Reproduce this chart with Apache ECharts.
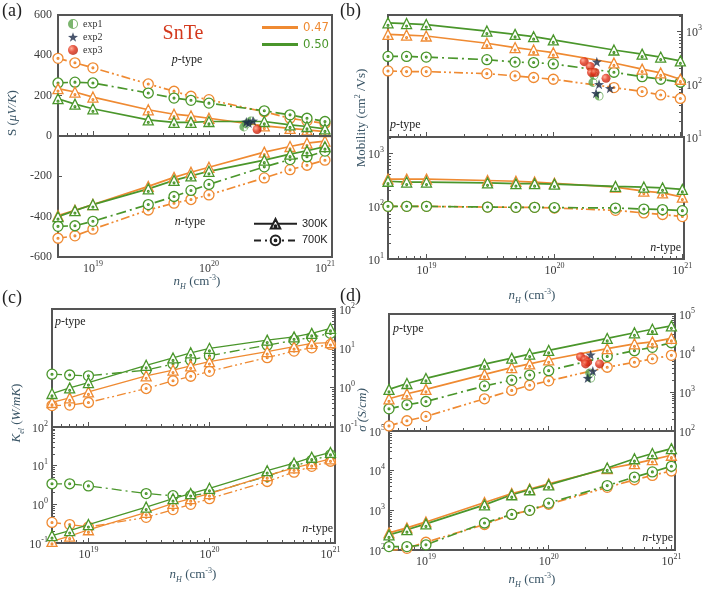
<!DOCTYPE html>
<html><head><meta charset="utf-8">
<script src="https://cdn.jsdelivr.net/npm/echarts@6/dist/echarts.min.js"></script>
<style>html,body{margin:0;padding:0;background:#fff}#c{width:705px;height:591px}</style>
</head><body><div id="c"></div>
<script>
// ---------------- DATA ----------------
const nH = [5e18, 7e18, 1e19, 3e19, 5e19, 7e19, 1e20, 3e20, 5e20, 7e20, 1e21];
const compositions = ['0.47', '0.50'];
const temperatures = ['300K', '700K'];
const linearTicksA = [-600, -400, -200, 0, 200, 400, 600];

// (a) Seebeck coefficient, uV/K
const S_p_047_300 = [235, 218, 193, 130, 108, 100, 88, 50, 38, 30, 22];
const S_p_050_300 = [185, 158, 135, 80, 68, 68, 72, 72, 55, 47, 35];
const S_p_047_700 = [385, 363, 338, 258, 222, 197, 180, 120, 88, 75, 62];
const S_p_050_700 = [263, 267, 263, 213, 188, 177, 163, 125, 105, 88, 72];
const S_n_047_300 = [-395, -368, -340, -250, -205, -180, -155, -80, -52, -35, -25];
const S_n_050_300 = [-400, -370, -340, -262, -220, -198, -175, -120, -90, -73, -53];
const S_n_047_700 = [-507, -495, -462, -367, -333, -315, -292, -208, -167, -145, -120];
const S_n_050_700 = [-448, -445, -423, -340, -300, -270, -240, -153, -117, -103, -75];

// (b) Mobility, cm2/Vs
const M_p_047_300 = [890, 865, 830, 605, 500, 450, 400, 255, 195, 165, 125];
const M_p_050_300 = [1480, 1430, 1370, 1030, 890, 805, 700, 450, 375, 330, 280];
const M_p_047_700 = [180, 175, 175, 160, 145, 135, 125, 87, 73, 63, 54];
const M_p_050_700 = [340, 340, 330, 295, 265, 260, 245, 170, 140, 125, 110];
const M_n_047_300 = [330, 330, 330, 310, 300, 290, 275, 233, 195, 180, 150];
const M_n_050_300 = [300, 290, 290, 280, 270, 270, 265, 240, 233, 225, 210];
const M_n_047_700 = [100, 100, 100, 97, 96, 96, 93, 84, 75, 70, 64];
const M_n_050_700 = [100, 100, 100, 97, 96, 96, 95, 93, 89, 87, 83];

// (c) Electronic thermal conductivity, W/mK
const K_p_047_300 = [0.42, 0.55, 0.78, 2.0, 2.8, 3.6, 4.6, 8.2, 11, 13.3, 14];
const K_p_050_300 = [0.71, 0.99, 1.35, 3.7, 5.7, 7.7, 10, 16.2, 19.6, 24, 32];
const K_p_047_700 = [0.35, 0.36, 0.42, 0.95, 1.5, 1.95, 2.6, 5.8, 8.5, 10.3, 12.6];
const K_p_050_700 = [2.2, 2.1, 2.0, 2.8, 4.0, 5.0, 6.5, 12, 16, 19, 24];
const K_n_047_300 = [0.11, 0.15, 0.22, 0.62, 1.06, 1.4, 1.9, 5.5, 8.8, 11.3, 15];
const K_n_050_300 = [0.155, 0.21, 0.30, 0.85, 1.4, 1.9, 2.6, 7.4, 11.7, 16.5, 22];
const K_n_047_700 = [0.34, 0.30, 0.26, 0.46, 0.73, 1.0, 1.4, 3.9, 6.8, 9.6, 13];
const K_n_050_700 = [3.4, 3.4, 3.0, 1.9, 1.67, 1.67, 1.96, 5.3, 9.6, 13.7, 19];

// (d) Electrical conductivity, S/cm
const D_p_047_300 = [670, 900, 1170, 2830, 4230, 5270, 6700, 12900, 17200, 19300, 23600];
const D_p_050_300 = [1170, 1650, 2230, 5170, 7400, 9400, 11700, 23600, 33000, 40700, 49700];
const D_p_047_700 = [135, 183, 236, 670, 1100, 1490, 1930, 4310, 5800, 7100, 8700];
const D_p_050_700 = [370, 470, 570, 1430, 2020, 2720, 3530, 8180, 11500, 14000, 18300];
const D_n_047_300 = [270, 360, 510, 1570, 2650, 3440, 4650, 11200, 15000, 19000, 24500];
const D_n_050_300 = [240, 325, 455, 1370, 2470, 3300, 4380, 11700, 20000, 27000, 36000];
const D_n_047_700 = [95, 110, 157, 440, 790, 1000, 1420, 3800, 5900, 7600, 9800];
const D_n_050_700 = [122, 122, 135, 480, 790, 1000, 1520, 4200, 6900, 9300, 12900];

// experiments [nH, value]
const expA1 = [[2.0e20, 45], [2.1e20, 60], [2.3e20, 75]];
const expA2 = [[2.1e20, 70], [2.2e20, 65], [2.4e20, 75]];
const expA3 = [[2.6e20, 32]];
const expB1 = [[2.09e20, 148], [2.05e20, 109], [2.29e20, 60]];
const expB2 = [[2.2e20, 270], [2.29e20, 100], [2.79e20, 84], [2.17e20, 68]];
const expB3 = [[1.75e20, 270], [1.95e20, 218], [2.0e20, 168], [2.13e20, 168], [2.6e20, 130]];
const expD1 = [[2.2e20, 2270], [2.16e20, 3060]];
const expD2 = [[2.2e20, 9000], [2.29e20, 3450], [2.08e20, 2270]];
const expD3 = [[1.82e20, 8000], [1.97e20, 6700], [2.08e20, 5900], [2.0e20, 5260], [2.6e20, 5260]];

const minorFactors = [2, 3, 4, 5, 6, 7, 8, 9];

// ---------------- STYLE ----------------
const ORANGE = '#EF8A32', GREEN = '#4A962B';
const FRAME = '#555555', TICK = '#555', LABEL = '#3a3a3a', TITLE = '#3A5566';
const SERIF = 'Liberation Serif, DejaVu Serif, serif';
const TRI = 'path://M0,-9 L9,7 L-9,7 Z M1.6,3 A1.6,1.6 0 1,1 -1.6,3 A1.6,1.6 0 1,1 1.6,3 Z';
const CIRC = 'path://M10,0 A10,10 0 1,1 -10,0 A10,10 0 1,1 10,0 Z M1.8,0 A1.8,1.8 0 1,1 -1.8,0 A1.8,1.8 0 1,1 1.8,0 Z';
const HALF = 'path://M0,-10 A10,10 0 0,0 0,10 Z M0,-10 A10,10 0 0,1 0,10 L0,8 A8,8 0 0,0 0,-8 Z';
const STAR = 'path://M0,-10 L2.35,-3.24 L9.51,-3.09 L3.8,1.24 L5.88,8.09 L0,4 L-5.88,8.09 L-3.8,1.24 L-9.51,-3.09 L-2.35,-3.24 Z';
const REDBALL = {type: 'radial', x: 0.35, y: 0.35, r: 0.75, colorStops: [{offset: 0, color: '#ff9c80'}, {offset: 0.45, color: '#e2321a'}, {offset: 1, color: '#b01a05'}]};

const grids = [
  {left: 58, top: 15, width: 274, height: 242},   // a
  {left: 388, top: 15, width: 296, height: 122},  // b p
  {left: 388, top: 137, width: 296, height: 122}, // b n
  {left: 52, top: 309, width: 283, height: 118},  // c p
  {left: 52, top: 427, width: 283, height: 116},  // c n
  {left: 389, top: 314, width: 286, height: 117}, // d p
  {left: 389, top: 431, width: 286, height: 119}  // d n
].map(g => Object.assign({show: true, borderColor: FRAME, borderWidth: 2, backgroundColor: 'transparent'}, g));

const POW_RICH = {
  b: {fontFamily: SERIF, fontSize: 12, color: LABEL, lineHeight: 15, verticalAlign: 'bottom'},
  s: {fontFamily: SERIF, fontSize: 8, color: LABEL, lineHeight: 15, verticalAlign: 'top'}
};
const powFmt = v => '{b|10}{s|' + Math.round(Math.log10(v)) + '}';

function logAxisPair(gi, min, max, lo, hi, showLabel, position, margin) {
  const major = [], minor = [];
  for (let e = lo; e <= hi; e++) {
    major.push(Number('1e' + e));
    minorFactors.forEach(m => minor.push(Number(m + 'e' + e)));
  }
  const base = {type: 'log', logBase: 10, min, max, gridIndex: gi, position,
    axisLine: {show: false}, splitLine: {show: false}, minorTick: {show: false}};
  return [
    Object.assign({}, base, {
      axisTick: {show: true, inside: true, length: 5, lineStyle: {color: TICK, width: 1}, customValues: major},
      axisLabel: {show: showLabel, customValues: major, formatter: powFmt, rich: POW_RICH, margin: margin}
    }),
    Object.assign({}, base, {
      axisTick: {show: true, inside: true, length: 3, lineStyle: {color: TICK, width: 1}, customValues: minor},
      axisLabel: {show: false}
    })
  ];
}

const xRanges = [[5e18, 1.15e21], [5e18, 1.03e21], [5e18, 1.03e21], [5e18, 1.09e21], [5e18, 1.09e21], [5e18, 1.07e21], [5e18, 1.07e21]];
const xLabelShown = [true, false, true, false, true, false, true];
let xAxes = [];
xRanges.forEach((r, gi) => { xAxes = xAxes.concat(logAxisPair(gi, r[0], r[1], 18, 21, xLabelShown[gi], 'bottom', 3)); });

let yAxes = [
  {type: 'value', gridIndex: 0, min: -600, max: 600, interval: 200, position: 'left',
   axisLine: {show: false}, splitLine: {show: false},
   axisTick: {show: true, inside: true, length: 4, lineStyle: {color: TICK}},
   axisLabel: {color: LABEL, fontFamily: SERIF, fontSize: 12, margin: 6, customValues: linearTicksA}},
  {type: 'value', gridIndex: 0, min: -600, max: 600, show: false}
];
yAxes = yAxes.concat(logAxisPair(1, 10, 2080, 1, 3, true, 'right', 4));
yAxes = yAxes.concat(logAxisPair(2, 10, 2080, 1, 3, true, 'left', 4));
yAxes = yAxes.concat(logAxisPair(3, 0.1, 100, -1, 2, true, 'right', 4));
yAxes = yAxes.concat(logAxisPair(4, 0.1, 100, -1, 2, true, 'left', 4));
yAxes = yAxes.concat(logAxisPair(5, 100, 1e5, 2, 5, true, 'right', 4));
yAxes = yAxes.concat(logAxisPair(6, 100, 1e5, 2, 5, true, 'left', 4));

function lineSeries(gi, values, comp, temp, lw) {
  const color = comp === '0.47' ? ORANGE : GREEN;
  const is300 = temp === '300K';
  return {
    type: 'line', name: comp + ' ' + temp, xAxisIndex: gi * 2, yAxisIndex: gi * 2,
    data: nH.map((x, i) => [x, values[i]]),
    symbol: is300 ? TRI : CIRC, symbolSize: 10, showAllSymbol: true,
    lineStyle: {color, width: lw || 1.7, type: is300 ? 'solid' : (comp === '0.47' ? [9, 3, 2, 3, 2, 3] : [10, 4, 2, 4])},
    itemStyle: {color: '#fff', borderColor: color, borderWidth: 1.3},
    emphasis: {disabled: true}, z: is300 ? 3 : 2
  };
}
function expSeries(gi, name, data) {
  const st = {
    exp1: {symbol: HALF, size: 9, itemStyle: {color: '#5aa34a'}},
    exp2: {symbol: STAR, size: 10, itemStyle: {color: '#1c2a48'}},
    exp3: {symbol: 'circle', size: 9, itemStyle: {color: REDBALL}}
  }[name];
  return {type: 'scatter', name, xAxisIndex: gi * 2, yAxisIndex: gi * 2, data,
    symbol: st.symbol, symbolSize: st.size, itemStyle: st.itemStyle, z: 6, emphasis: {disabled: true}};
}

const panels = [
  [0, [S_p_047_300, S_p_050_300, S_p_047_700, S_p_050_700]],
  [0, [S_n_047_300, S_n_050_300, S_n_047_700, S_n_050_700]],
  [1, [M_p_047_300, M_p_050_300, M_p_047_700, M_p_050_700]],
  [2, [M_n_047_300, M_n_050_300, M_n_047_700, M_n_050_700]],
  [3, [K_p_047_300, K_p_050_300, K_p_047_700, K_p_050_700]],
  [4, [K_n_047_300, K_n_050_300, K_n_047_700, K_n_050_700]],
  [5, [D_p_047_300, D_p_050_300, D_p_047_700, D_p_050_700]],
  [6, [D_n_047_300, D_n_050_300, D_n_047_700, D_n_050_700]]
];
const series = [];
panels.forEach(([gi, arrs]) => {
  const lw = (gi === 3 || gi === 4) ? 1.3 : 1.7;
  series.push(lineSeries(gi, arrs[2], '0.47', '700K', lw));
  series.push(lineSeries(gi, arrs[3], '0.50', '700K', lw));
  series.push(lineSeries(gi, arrs[0], '0.47', '300K', lw));
  series.push(lineSeries(gi, arrs[1], '0.50', '300K', lw));
});
series[0].markLine = {silent: true, symbol: 'none', label: {show: false}, animation: false,
  lineStyle: {color: FRAME, width: 2, type: 'solid'}, data: [{yAxis: 0}]};

series.push(expSeries(0, 'exp1', expA1), expSeries(0, 'exp2', expA2), expSeries(0, 'exp3', expA3));
series.push(expSeries(1, 'exp1', expB1), expSeries(1, 'exp2', expB2), expSeries(1, 'exp3', expB3));
series.push(expSeries(5, 'exp1', expD1), expSeries(5, 'exp2', expD2), expSeries(5, 'exp3', expD3));

// legend-only series
series.push({type: 'line', name: '0.47', xAxisIndex: 0, yAxisIndex: 0, data: [], symbol: 'none', lineStyle: {color: ORANGE, width: 2.5}, itemStyle: {color: ORANGE}});
series.push({type: 'line', name: '0.50', xAxisIndex: 0, yAxisIndex: 0, data: [], symbol: 'none', lineStyle: {color: GREEN, width: 2.5}, itemStyle: {color: GREEN}});
series.push({type: 'line', name: '300K', xAxisIndex: 0, yAxisIndex: 0, data: [], symbol: TRI, symbolSize: 12, lineStyle: {color: '#222', width: 1.5}, itemStyle: {color: '#fff', borderColor: '#222', borderWidth: 1.3}});
series.push({type: 'line', name: '700K', xAxisIndex: 0, yAxisIndex: 0, data: [], symbol: CIRC, symbolSize: 12, lineStyle: {color: '#222', width: 1.5, type: [7, 4, 2, 4]}, itemStyle: {color: '#fff', borderColor: '#222', borderWidth: 1.3}});

const legends = [
  {data: ['exp1', 'exp2', 'exp3'], left: 68, top: 19, padding: 0, orient: 'vertical', itemGap: 3, itemWidth: 10, itemHeight: 10,
   textStyle: {fontFamily: SERIF, fontSize: 10, color: '#333'}, selectedMode: false},
  {data: [{name: '0.47', icon: 'rect', textStyle: {color: ORANGE}}, {name: '0.50', icon: 'rect', textStyle: {color: GREEN}}],
   left: 262, top: 21, padding: 0, orient: 'vertical', itemGap: 4, itemWidth: 36, itemHeight: 3,
   textStyle: {fontFamily: 'Liberation Sans Narrow, DejaVu Sans Condensed, Liberation Sans, sans-serif', fontSize: 13, lineHeight: 13}, selectedMode: false},
  {data: ['300K', '700K'], left: 253, top: 218, padding: 0, orient: 'vertical', itemGap: 5, itemWidth: 43, itemHeight: 12,
   textStyle: {fontFamily: 'Liberation Sans, sans-serif', fontSize: 11, color: '#222'}, selectedMode: false}
];

function txt(x, y, text, opts) {
  opts = opts || {};
  return {type: 'text', x, y, rotation: opts.rot || 0, silent: true, z: 10,
    style: {text, fill: opts.color || '#222', font: (opts.italic ? 'italic ' : '') + (opts.size || 13) + 'px ' + SERIF,
      align: opts.align || 'center', verticalAlign: 'middle', rich: opts.rich}};
}
const richT = (color, size) => ({
  t: {fill: color, fontFamily: SERIF, fontSize: size, lineHeight: 17},
  i: {fill: color, fontFamily: SERIF, fontSize: size, fontStyle: 'italic', lineHeight: 17},
  s: {fill: color, fontFamily: SERIF, fontSize: size * 0.62, lineHeight: 17, verticalAlign: 'top'},
  u: {fill: color, fontFamily: SERIF, fontSize: size * 0.62, fontStyle: 'italic', lineHeight: 17, verticalAlign: 'bottom'}
});
const R13 = richT(TITLE, 13), RP = richT('#222', 12);
const nHTitle = '{i|n}{u|H}{t| (cm}{s|-3}{t|)}';
const graphics = [
  txt(2, 11, '(a)', {size: 18, align: 'left'}),
  txt(340, 11, '(b)', {size: 18, align: 'left'}),
  txt(2, 298, '(c)', {size: 18, align: 'left'}),
  txt(340, 296, '(d)', {size: 18, align: 'left'}),
  txt(183, 34, 'SnTe', {size: 20, color: '#D3381C'}),
  txt(187, 60, '{i|p}{t|-type}', {rich: RP}),
  txt(190, 222, '{i|n}{t|-type}', {rich: RP}),
  txt(390, 125, '{i|p}{t|-type}', {rich: RP, align: 'left'}),
  txt(681, 248, '{i|n}{t|-type}', {rich: RP, align: 'right'}),
  txt(55, 322, '{i|p}{t|-type}', {rich: RP, align: 'left'}),
  txt(333, 529, '{i|n}{t|-type}', {rich: RP, align: 'right'}),
  txt(393, 329, '{i|p}{t|-type}', {rich: RP, align: 'left'}),
  txt(673, 538, '{i|n}{t|-type}', {rich: RP, align: 'right'}),
  txt(13, 113, '{t|S (}{i|μV/K}{t|)}', {rich: R13, rot: Math.PI / 2}),
  txt(362, 118, '{t|Mobility (cm}{s|2}{t| /Vs)}', {rich: R13, rot: Math.PI / 2}),
  txt(17, 413, '{i|K}{u|el}{t| (}{i|W/mK}{t|)}', {rich: R13, rot: Math.PI / 2}),
  txt(363, 410, '{i|σ (S/cm)}', {rich: R13, rot: Math.PI / 2}),
  txt(197, 282, nHTitle, {rich: R13}),
  txt(532, 296, nHTitle, {rich: R13}),
  txt(193, 575, nHTitle, {rich: R13}),
  txt(532, 580, nHTitle, {rich: R13})
];

const chart = echarts.init(document.getElementById('c'), null, {renderer: 'canvas'});
chart.setOption({
  animation: false,
  backgroundColor: '#fff',
  grid: grids,
  xAxis: xAxes,
  yAxis: yAxes,
  legend: legends,
  series: series,
  graphic: graphics
});
</script></body></html>
